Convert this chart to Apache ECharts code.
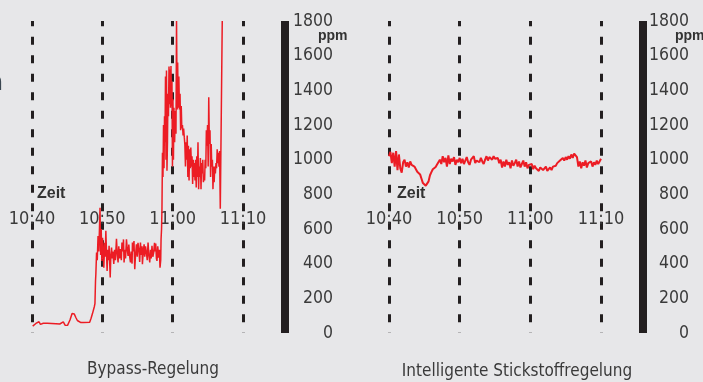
<!DOCTYPE html>
<html>
<head>
<meta charset="utf-8">
<script src="https://cdn.jsdelivr.net/npm/echarts@6/dist/echarts.min.js"></script>
<style>
html,body{margin:0;padding:0;background:#e7e7e9;}
#c{width:703px;height:382px;}
</style>
</head>
<body>
<div id="c"></div>
<script>
// Tick labels
const timeLabels = ['10:40', '10:50', '11:00', '11:10'];
const ppmTicks = [0, 200, 400, 600, 800, 1000, 1200, 1400, 1600, 1800];
const chartTitles = ['Bypass-Regelung', 'Intelligente Stickstoffregelung'];

// Left chart: Bypass-Regelung, [minutes after 10:40, ppm]
const bypassData = [
  [0.1,40],[0.3,38],[0.55,55],[0.8,45],[1.0,65],[1.2,50],[1.4,58],[1.6,56],[2.2,56],[2.8,55],
  [3.4,54],[3.95,52],[4.2,42],[4.45,64],[4.7,45],[5.05,44],[5.4,75],[5.7,112],[6.0,110],[6.25,88],
  [6.45,72],[6.7,70],[6.95,60],[7.3,60],[7.5,64],[8.2,62],[8.4,85],[8.6,112],[8.75,115],[8.85,150],
  [8.95,170],[9.03,300],[9.08,340],[9.18,464],[9.28,420],[9.39,560],[9.50,470],[9.59,600],[9.67,722],[9.76,450],
  [9.84,600],[9.93,416],[10.03,550],[10.13,470],[10.21,377],[10.33,520],[10.41,440],[10.50,590],[10.59,470],[10.68,358],
  [10.78,480],[10.88,420],[10.96,503],[11.05,400],[11.12,320],[11.21,450],[11.31,493],[11.40,430],[11.50,470],[11.63,398],
  [11.74,480],[11.86,420],[12.01,543],[12.13,450],[12.24,407],[12.34,500],[12.45,430],[12.58,484],[12.70,420],[12.79,522],
  [12.91,470],[13.01,540],[13.09,407],[13.19,480],[13.30,430],[13.43,541],[13.55,480],[13.66,445],[13.77,510],[13.89,440],
  [14.00,407],[14.11,470],[14.23,400],[14.28,522],[14.38,470],[14.50,530],[14.61,368],[14.72,450],[14.85,512],[14.96,440],
  [15.07,520],[15.21,474],[15.31,410],[15.42,522],[15.53,450],[15.65,500],[15.70,397],[15.82,470],[15.94,512],[16.03,440],
  [16.14,500],[16.27,464],[16.38,420],[16.50,522],[16.61,450],[16.74,407],[16.85,480],[16.95,430],[17.06,503],[17.18,440],
  [17.30,464],[17.42,520],[17.50,470],[17.59,516],[17.69,430],[17.77,416],[17.88,500],[18.01,435],[18.11,480],[18.20,377],
  [18.30,420],[18.35,541],[18.42,600],[18.48,720],[18.55,1040],[18.62,900],[18.70,1200],[18.77,950],[18.84,1250],[18.91,1100],
  [18.98,1480],[19.05,1000],[19.12,1515],[19.19,936],[19.26,1100],[19.33,1380],[19.40,1250],[19.48,1537],[19.55,1320],[19.62,1520],
  [19.69,1300],[19.76,1540],[19.83,1310],[19.90,1450],[19.97,960],[20.04,1350],[20.11,1000],[20.18,1300],[20.28,1100],[20.37,1280],
  [20.47,1150],[20.55,1800],[20.64,1290],[20.71,1560],[20.79,1300],[20.88,1480],[20.96,1290],[21.05,1380],[21.13,1170],[21.22,1310],
  [21.30,1180],[21.39,1200],[21.48,1140],[21.56,1180],[21.65,1130],[21.73,1090],[21.82,960],[21.90,1100],[21.99,1000],[22.07,1140],
  [22.16,900],[22.24,1080],[22.33,880],[22.41,1060],[22.50,950],[22.58,1070],[22.67,960],[22.75,1020],[22.84,860],[22.92,1000],
  [23.01,900],[23.09,980],[23.18,880],[23.26,1000],[23.35,840],[23.43,1020],[23.52,900],[23.60,1100],[23.69,830],[23.77,960],
  [23.86,900],[23.94,1010],[24.03,830],[24.11,980],[24.20,920],[24.28,1000],[24.37,870],[24.45,900],[24.54,880],[24.62,1000],
  [24.71,950],[24.79,1170],[24.88,1080],[24.96,1200],[25.05,960],[25.13,1360],[25.22,1090],[25.31,1170],[25.39,900],[25.48,1090],
  [25.56,960],[25.65,1000],[25.73,830],[25.82,960],[25.90,870],[25.99,960],[26.07,920],[26.16,980],[26.24,950],[26.33,1060],
  [26.41,980],[26.50,1040],[26.58,960],[26.67,1050],[26.77,717],[26.91,1255],[26.98,1255],[27.05,1800]
];

// Right chart: Intelligente Stickstoffregelung, one reading every 0.2 minutes from 10:40
const smartStep = 0.2;
const smartValues = [
  1020,1045,980,1040,960,1050,940,1030,950,925,985,
  1000,960,985,955,990,970,980,960,
  960,
  930,925,915,890,865,855,850,840,875,910,928,945,950,958,972,980,
  1000,975,1020,985,1010,960,1025,975,1005,990,1015,970,1000,985,1010,
  980,1005,975,995,1015,985,970,1000,990,1020,980,995,1005,985,1010,990,975,1000,1020,995,1015,1025,1000,1020,1005,
  995,1010,980,1000,955,990,960,1000,970,985,950,995,965,980,1000,960,990,955,975,995,960,985,950,970,960,
  975,945,965,950,960,935,955,965,940,950,960,935,945,955,940,960,950,
  965,980,970,995,985,1010,995,1015,1000,1020,1005,1030,1010,1035,1025,1015,
  960,990,950,985,965,995,955,980,970,990,960,985,970,995,975,990,1005
];

const TXT = '#3a3a3a';
const DARK = '#231f20';
const RED = '#ec1c24';
const FONT = '"Liberation Sans Narrow", "DejaVu Sans Condensed", sans-serif';
const BOLD = '"Liberation Sans", Arial, sans-serif';

const chart = echarts.init(document.getElementById('c'), null, {renderer: 'canvas'});

function xAxisFor(gi) {
  return {
    gridIndex: gi, type: 'value', min: 0, max: 30, interval: 10,
    axisLine: {show: false, onZero: false}, axisTick: {show: false},
    splitLine: {show: true, lineStyle: {type: [8, 10.5], dashOffset: 2.8, width: 3, color: DARK, cap: 'butt'}},
    axisLabel: {
      formatter: v => timeLabels[Math.round(v / 10)],
      margin: -114, verticalAlign: 'middle',
      fontSize: 18, color: TXT, fontFamily: FONT
    }
  };
}
function yAxisFor(gi, margin) {
  return {
    gridIndex: gi, type: 'value', min: ppmTicks[0], max: ppmTicks[ppmTicks.length - 1], interval: 200,
    position: 'right', offset: 42,
    axisLine: {show: true, onZero: false, lineStyle: {width: 8, color: DARK, cap: 'butt'}},
    axisTick: {show: false}, splitLine: {show: false},
    axisLabel: {align: 'right', margin: margin, fontSize: 17.5, color: TXT, fontFamily: FONT,
      formatter: v => String(v)}
  };
}

const smartData = smartValues.map((v, i) => [+(i * smartStep).toFixed(2), v]);

chart.setOption({
  backgroundColor: '#e7e7e9',
  animation: false,
  grid: [
    {left: 32, width: 211, top: 21, height: 312},
    {left: 389, width: 212, top: 21, height: 312}
  ],
  xAxis: [xAxisFor(0), xAxisFor(1)],
  yAxis: [yAxisFor(0, 48), yAxisFor(1, 46)],
  series: [
    {type: 'line', xAxisIndex: 0, yAxisIndex: 0, data: bypassData, showSymbol: false,
     lineStyle: {width: 1.5, color: RED}, z: 3},
    {type: 'line', xAxisIndex: 1, yAxisIndex: 1, data: smartData, showSymbol: false,
     lineStyle: {width: 2, color: RED}, z: 3}
  ],
  graphic: [
    {type: 'text', x: 318, y: 36, style: {text: 'ppm', font: 'bold 14px ' + BOLD, fill: '#333', verticalAlign: 'middle'}},
    {type: 'text', x: 675, y: 36, style: {text: 'ppm', font: 'bold 14px ' + BOLD, fill: '#333', verticalAlign: 'middle'}},
    {type: 'text', x: 37, y: 194, style: {text: 'Zeit', font: 'bold 16px ' + BOLD, fill: '#333', verticalAlign: 'middle'}},
    {type: 'text', x: 397, y: 194, style: {text: 'Zeit', font: 'bold 16px ' + BOLD, fill: '#333', verticalAlign: 'middle'}},
    {type: 'text', x: 153, y: 370, style: {text: chartTitles[0], font: '17px ' + FONT, fill: TXT, align: 'center', verticalAlign: 'middle'}},
    {type: 'text', x: 517, y: 372, style: {text: chartTitles[1], font: '17px ' + FONT, fill: TXT, align: 'center', verticalAlign: 'middle'}},
    {type: 'text', x: 3, y: 84, style: {text: 'n', font: '24px ' + FONT, fill: '#3a4650', align: 'right', verticalAlign: 'middle'}}
  ]
});
</script>
</body>
</html>
